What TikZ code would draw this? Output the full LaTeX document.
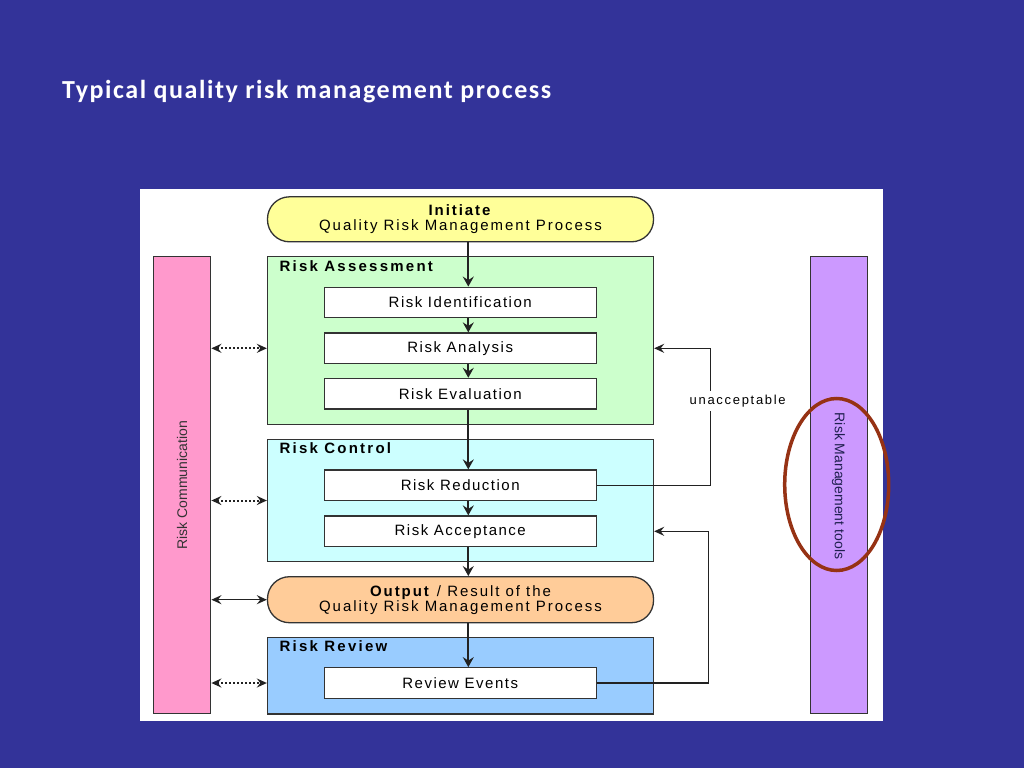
\documentclass[tikz,border=0pt]{standalone}
\usepackage{fontspec}
\setmainfont{Liberation Sans}
\newfontfamily\titlefont[LetterSpace=6]{Carlito}
\newfontfamily\stepfont[LetterSpace=10]{Liberation Sans}
\newfontfamily\stadfont[LetterSpace=13]{Liberation Sans}
\newfontfamily\labfont[LetterSpace=15]{Liberation Sans}
\newfontfamily\spacedfont[LetterSpace=13]{Liberation Sans}
\usetikzlibrary{arrows.meta}
\definecolor{bgblue}{HTML}{333399}
\definecolor{linegray}{HTML}{333333}
\definecolor{flowgray}{HTML}{222222}
\definecolor{fyellow}{HTML}{FFFF99}
\definecolor{fgreen}{HTML}{CCFFCC}
\definecolor{fcyan}{HTML}{CCFFFF}
\definecolor{fpeach}{HTML}{FFCC99}
\definecolor{fblue}{HTML}{99CCFF}
\definecolor{fpink}{HTML}{FF99CC}
\definecolor{fpurple}{HTML}{CC99FF}
\definecolor{ellbrown}{HTML}{963214}
\definecolor{navytext}{HTML}{1F1F4F}
\tikzset{
  frame/.style={draw=linegray, line width=1.3pt},
  stepbox/.style={frame, fill=white, minimum width=272pt, minimum height=30.5pt, inner sep=0pt,
    font=\stepfont\fontsize{15}{16}\selectfont},
  groupbox/.style={frame, minimum width=386pt, inner sep=0pt},
  stadium/.style={frame, rounded corners=22pt, minimum width=386pt, minimum height=45pt, inner sep=0pt,
    align=center, font=\stadfont\fontsize{15}{15}\selectfont},
  grouplabel/.style={anchor=base west, inner sep=0pt, font=\labfont\bfseries\fontsize{15}{16}\selectfont},
  sidebar/.style={frame, minimum width=57.5pt, minimum height=457pt, inner sep=0pt},
  flow/.style={draw=flowgray, line width=1.9pt, -{Stealth[length=10pt,width=11pt,inset=3.5pt]}},
  dotarrow/.style={draw=flowgray, line width=2pt, dash pattern=on 2pt off 2pt,
    {Stealth[length=10pt,width=9pt,inset=3.5pt]}-{Stealth[length=10pt,width=9pt,inset=3.5pt]}},
  solidarrow/.style={draw=flowgray, line width=1.5pt,
    {Stealth[length=10pt,width=9pt,inset=3.5pt]}-{Stealth[length=10pt,width=9pt,inset=3.5pt]}},
  feedback/.style={draw=flowgray, line width=1.3pt, -{Stealth[length=10pt,width=9pt,inset=3.5pt]}},
}
\begin{document}
\begin{tikzpicture}[x=1pt,y=-1pt]
\useasboundingbox (0,0) rectangle (1024,768);
\fill[bgblue] (0,0) rectangle (1024,768);
\node[anchor=base west, inner sep=0pt, text=white, font=\titlefont\bfseries\fontsize{26}{30}\selectfont]
  (title) at (62,98.3) {Typical quality risk management process};
% white panel
\fill[white] (140,189) rectangle (883,721);
% side bars
\node[sidebar, fill=fpink] (pink) at (182,485.3) {};
\node[rotate=90, text=linegray, font=\fontsize{14}{15}\selectfont] (commtext) at (pink.center) {Risk Communication};
\node[sidebar, fill=fpurple] (purple) at (838.9,485.3) {};
\node[rotate=-90, text=navytext, font=\fontsize{14}{15}\selectfont] (tooltext) at (838.5,486) {Risk Management tools};
\draw[ellbrown, line width=3.5pt] (836.7,484.5) ellipse [x radius=52pt, y radius=86pt];
% groups
\node[groupbox, fill=fgreen, minimum height=167.6pt] (RA) at (460.5,340.5) {};
\node[grouplabel] (RAlab) at (279.3,271) {Risk Assessment};
\node[groupbox, fill=fcyan, minimum height=122.4pt] (RC) at (460.5,500.5) {};
\node[grouplabel] (RClab) at (279.3,453) {Risk Control};
\node[groupbox, fill=fblue, minimum height=76.3pt] (RR) at (460.5,675.9) {};
\node[grouplabel] (RRlab) at (279.3,651.3) {Risk Review};
% stadiums
\node[stadium, fill=fyellow] (init) at (460.5,219.3) {\textbf{Initiate}\\Quality Risk Management Process};
\node[stadium, fill=fpeach, minimum height=46pt] (output) at (460.5,599.7) {\textbf{Output} / Result of the\\Quality Risk Management Process};
% steps
\node[stepbox] (ident) at (460.2,302.5) {Risk Identification};
\node[stepbox] (ana) at (460.2,348.3) {Risk Analysis};
\node[stepbox] (eval) at (460.2,393.7) {Risk Evaluation};
\node[stepbox] (red) at (460.2,485.3) {Risk Reduction};
\node[stepbox] (acc) at (460.2,531.3) {Risk Acceptance};
\node[stepbox] (review) at (460.2,683) {Review Events};
% main flow
\coordinate (ax) at (468.3,0);
\draw[flow] (init.south -| ax) -- (ident.north -| ax);
\draw[flow] (ident.south -| ax) -- (ana.north -| ax);
\draw[flow] (ana.south -| ax) -- (eval.north -| ax);
\draw[flow] (eval.south -| ax) -- (red.north -| ax);
\draw[flow] (red.south -| ax) -- (acc.north -| ax);
\draw[flow] (acc.south -| ax) -- (output.north -| ax);
\draw[flow] (output.south -| ax) -- (review.north -| ax);
% communication arrows
\draw[dotarrow] (pink.east |- ana) -- (RA.west |- ana);
\draw[dotarrow] (pink.east |- RC.west) -- (RC.west);
\draw[solidarrow] (pink.east |- output.west) -- (output.west);
\draw[dotarrow] (pink.east |- review) -- (RR.west |- review);
% feedback loops
\coordinate (fbx1) at (710.7,0);
\coordinate (fbx2) at (708.3,0);
\draw[feedback] (red.east) -- (red.east -| fbx1) -- (fbx1 |- ana) -- (RA.east |- ana);
\node[fill=white, inner sep=0pt, minimum height=20pt, font=\spacedfont\fontsize{13}{14}\selectfont] (unacc) at (737.7,401) {unacceptable};
\draw[feedback] (review.east) -- (review.east -| fbx2) -- (fbx2 |- acc) -- (RC.east |- acc);
\end{tikzpicture}
\end{document}
